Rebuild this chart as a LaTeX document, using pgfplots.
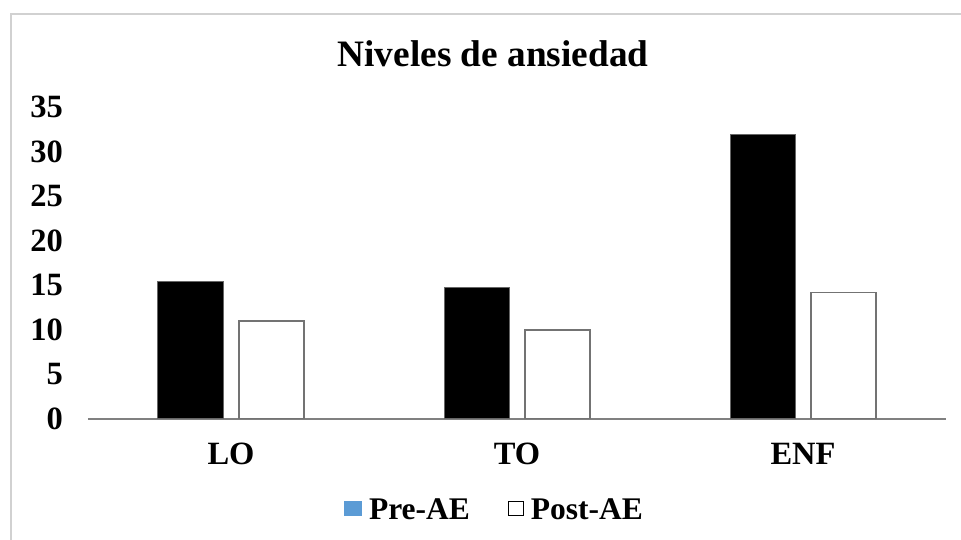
\documentclass[border=0pt]{standalone}
\usepackage{fontspec}
\setmainfont{Liberation Serif}
\usepackage{pgfplots}
\pgfplotsset{compat=1.18}
\definecolor{legblue}{HTML}{5B9BD5}
\begin{document}
\begin{tikzpicture}
\useasboundingbox (0,0) rectangle (961pt,540pt);
\fill[white] (0,0) rectangle (961pt,540pt);
\draw[color=black!18, line width=2pt] (11pt,-5pt) -- (11pt,525.5pt) -- (970pt,525.5pt);
\node[anchor=base, font=\fontsize{37.3}{41}\selectfont\bfseries, inner sep=0pt] at (493pt,473pt) {Niveles de ansiedad};
\begin{axis}[
  at={(88pt,121pt)}, anchor=south west,
  scale only axis, width=858pt, height=312pt,
  xmin=-0.5, xmax=2.5, ymin=0, ymax=35,
  axis lines*=left,
  y axis line style={draw=none},
  x axis line style={draw=black!50, line width=1.5pt},
  major tick length=0pt,
  xtick={0,1,2}, xticklabels={LO,TO,ENF},
  ytick={0,5,...,35},
  /pgf/number format/assume math mode=true,
  yticklabel style={anchor=east, inner sep=0pt, xshift=-25pt, font=\fontsize{32.5}{36}\selectfont\bfseries},
  xticklabel style={anchor=base, inner sep=0pt, yshift=-46pt, font=\fontsize{32.5}{36}\selectfont\bfseries},
  ybar, bar width=65pt,
  legend columns=2,
  legend style={at={(0.4726,-0.292)}, anchor=center, draw=none, fill=none, inner sep=0pt,
    nodes={inner sep=0pt}, font=\fontsize{31.5}{35}\selectfont\bfseries,
    /tikz/every odd column/.append style={column sep=7pt},
    /tikz/every even column/.append style={column sep=38pt}},
]
\addplot[bar shift=-40.5pt, fill=black, draw=black!60, line width=1pt,
  legend image code/.code={\fill[legblue] (0pt,-5.5pt) rectangle (17pt,9pt);}]
  coordinates {(0,15.4) (1,14.7) (2,31.9)};
\addlegendentry{Pre-AE}
\addplot[bar shift=40.5pt, fill=white, draw=black!55, line width=1.5pt,
  legend image code/.code={\filldraw[fill=white, draw=black, line width=1pt] (0.5pt,-5pt) rectangle (15.5pt,9pt);}]
  coordinates {(0,11.0) (1,10.0) (2,14.2)};
\addlegendentry{Post-AE}
\end{axis}
\end{tikzpicture}
\end{document}
